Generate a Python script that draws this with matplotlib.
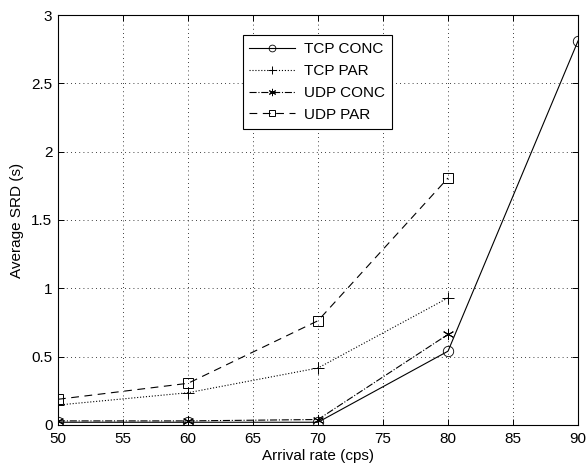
import matplotlib
matplotlib.use("Agg")
import matplotlib.pyplot as plt

plt.rcParams['font.family'] = ['Liberation Sans', 'DejaVu Sans']

rates = [50, 60, 70, 80, 90]
rates_par = [50, 60, 70, 80]
tcp_conc = [0.02, 0.02, 0.02, 0.54, 2.81]
tcp_par = [0.146, 0.236, 0.417, 0.93]
udp_conc = [0.03, 0.03, 0.04, 0.663]
udp_par = [0.188, 0.305, 0.763, 1.807]

fig = plt.figure(figsize=(5.88, 4.72), dpi=100)
ax = fig.add_axes([0.0986, 0.0996, 0.8844, 0.8686])

ax.plot(rates, tcp_conc, '-', color='black', lw=0.8, marker='o', ms=7.5,
        mfc='none', mec='black', mew=0.6, label='TCP CONC')
ax.plot(rates_par, tcp_par, ':', color='black', lw=0.8, marker='+', ms=9,
        mew=0.7, label='TCP PAR')
ax.plot(rates_par, udp_conc, '-.', color='black', lw=0.8, marker=(6, 2, 0),
        ms=8, mew=0.7, label='UDP CONC')
ax.plot(rates_par, udp_par, '--', color='black', lw=0.8, marker='s', ms=7,
        mfc='none', mec='black', mew=0.7, label='UDP PAR', dashes=(7, 5))

ax.set_xlim(50, 90)
ax.set_ylim(0, 3)
ax.set_xticks([50, 55, 60, 65, 70, 75, 80, 85, 90])
ax.set_yticks([0, 0.5, 1, 1.5, 2, 2.5, 3])
ax.set_yticklabels(['0', '0.5', '1', '1.5', '2', '2.5', '3'])
ax.grid(True, linestyle=(0, (1, 4)), color='black', lw=0.6)
ax.tick_params(direction='in', top=True, right=True, labelsize=11, length=4,
               width=0.7)
ax.tick_params(axis='x', pad=5)
ax.tick_params(axis='y', pad=4)
for s in ax.spines.values():
    s.set_linewidth(0.8)

ax.set_xlabel('Arrival rate (cps)', fontsize=11, labelpad=2)
ax.set_ylabel('Average SRD (s)', fontsize=11, labelpad=5)

leg = ax.legend(loc='upper left', bbox_to_anchor=(0.355, 0.951), fontsize=11,
                fancybox=False, edgecolor='black', framealpha=1,
                handlelength=3.0, handletextpad=0.55, borderpad=0.45,
                labelspacing=0.52, markerscale=0.65, borderaxespad=0)
leg.get_frame().set_linewidth(0.8)

fig.savefig('out.png', dpi=100)
